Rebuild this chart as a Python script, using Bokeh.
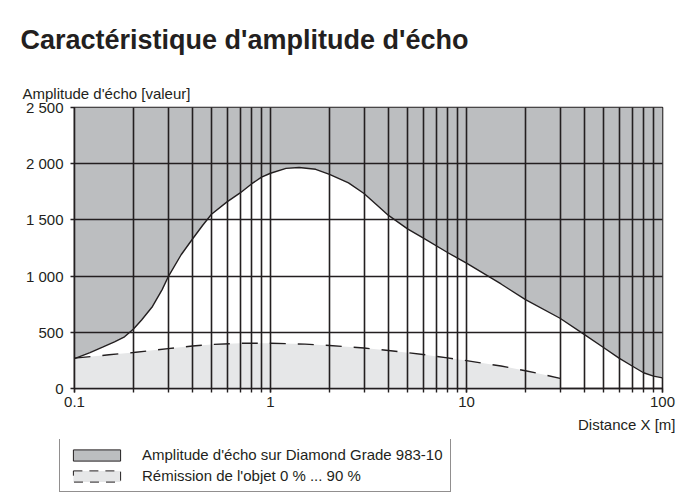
from bokeh.plotting import figure
from bokeh.layouts import column
from bokeh.models import Range1d, FixedTicker, Title, Legend, LegendItem
from bokeh.embed import file_html
from bokeh.resources import INLINE

# ---- data ----
title_text = "Caractéristique d'amplitude d'écho"
y_title = "Amplitude d'écho [valeur]"
x_title = "Distance X [m]"
legend_labels = ["Amplitude d'écho sur Diamond Grade 983-10",
                 "Rémission de l'objet 0 % ... 90 %"]

x_ticks = [0.1, 1, 10, 100]
x_tick_labels = ["0.1", "1", "10", "100"]
y_ticks = [0, 500, 1000, 1500, 2000, 2500]
y_tick_labels = ["0", "500", "1 000", "1 500", "2 000", "2 500"]
grid_x = [0.1, 0.2, 0.3, 0.4, 0.5, 0.6, 0.7, 0.8, 0.9,
          1, 2, 3, 4, 5, 6, 7, 8, 9,
          10, 20, 30, 40, 50, 60, 70, 80, 90, 100]

# Echo amplitude on Diamond Grade (upper boundary of grey zone)
solid_x = [0.1, 0.12, 0.14, 0.16, 0.18, 0.2, 0.22, 0.25, 0.28, 0.3, 0.35, 0.4,
           0.45, 0.5, 0.6, 0.7, 0.8, 0.9, 1.0, 1.2, 1.4, 1.7, 2.0, 2.5, 3.0,
           3.5, 4.0, 5.0, 6.0, 8.0, 10, 15, 20, 30, 40, 50, 60, 70, 80, 90, 100]
solid_y = [265, 320, 370, 415, 460, 530, 610, 730, 880, 990, 1190, 1330,
           1450, 1550, 1660, 1740, 1820, 1880, 1915, 1958, 1966, 1950, 1905, 1830, 1735,
           1630, 1540, 1420, 1340, 1210, 1115, 930, 790, 625, 480, 365, 270, 200, 140, 110, 95]

# Remission 0 % ... 90 % (upper boundary of light zone)
dash_x = [0.1, 0.15, 0.2, 0.3, 0.4, 0.5, 0.7, 1.0, 1.5, 2.0, 3.0, 4.0, 6.0,
          8.0, 10, 15, 20, 25, 30]
dash_y = [270, 300, 320, 355, 378, 392, 402, 402, 395, 383, 360, 338, 303,
          272, 248, 200, 158, 122, 90]

# ---- style ----
FONT = "Liberation Sans"
DARK = "#231f20"
GREY = "#bcbec0"
LIGHT = "#e6e7e8"
NAN = float("nan")

p = figure(frame_width=588, frame_height=281, x_axis_type="log", title=None,
           x_range=Range1d(0.1, 100), y_range=Range1d(0, 2500),
           output_backend="svg", toolbar_location=None,
           min_border_left=74, min_border_right=17,
           min_border_top=106, min_border_bottom=51)
p.background_fill_color = "white"
p.border_fill_color = "white"
p.outline_line_color = DARK
p.outline_line_width = 1.6

p.varea(x=solid_x, y1=solid_y, y2=2500, fill_color=GREY)
p.varea(x=dash_x, y1=0, y2=dash_y, fill_color=LIGHT)
p.line(solid_x, solid_y, line_color=DARK, line_width=1.4)
p.line(dash_x, dash_y, line_color=DARK, line_width=1.4, line_dash="16 12")

for g, t in ((p.xgrid[0], grid_x), (p.ygrid[0], y_ticks)):
    g.ticker = FixedTicker(ticks=t)
    g.grid_line_color = DARK
    g.grid_line_width = 1.6
    g.level = "overlay"

xa = p.xaxis[0]
xa.ticker = FixedTicker(ticks=x_ticks, minor_ticks=grid_x)
xa.major_label_overrides = dict(zip(x_ticks, x_tick_labels))
xa.minor_tick_in = 0
xa.minor_tick_out = 4
xa.minor_tick_line_color = DARK
xa.minor_tick_line_width = 1.4
xa.major_label_standoff = 4

ya = p.yaxis[0]
ya.ticker = FixedTicker(ticks=y_ticks)
ya.major_label_overrides = dict(zip(y_ticks, y_tick_labels))
ya.minor_tick_line_color = None
ya.major_label_standoff = 7

for a in (xa, ya):
    a.axis_line_color = DARK
    a.axis_line_width = 1.6
    a.major_tick_in = 0
    a.major_tick_out = 4
    a.major_tick_line_color = DARK
    a.major_tick_line_width = 1.4
    a.major_label_text_font = FONT
    a.major_label_text_font_size = "15px"
    a.major_label_text_color = DARK

# titles in the side panels (stacked outward from the frame)
p.add_layout(Title(text=y_title, align="left", offset=-52, standoff=11,
                   text_font=FONT, text_font_size="15px", text_font_style="normal",
                   text_color=DARK), "above")
p.add_layout(Title(text=title_text, align="left", offset=-54, standoff=45,
                   text_font=FONT, text_font_size="27px", text_font_style="bold",
                   text_color=DARK), "above")
p.add_layout(Title(text=x_title, align="right", offset=-13, standoff=9,
                   text_font=FONT, text_font_size="15px", text_font_style="normal",
                   text_color=DARK), "below")

# legend strip below the chart
q = figure(width=679, height=63, x_range=Range1d(0, 1), y_range=Range1d(0, 1),
           output_backend="svg", toolbar_location=None, title=None,
           x_axis_location=None, y_axis_location=None,
           min_border=0, min_border_left=0, min_border_right=0,
           min_border_top=0, min_border_bottom=0)
legend_x = 59
try:
    q.frame_align = False
    p.frame_align = False
except AttributeError:
    legend_x = 0  # frame of the strip is aligned with the chart frame (x=74)
q.outline_line_color = None
q.xgrid.visible = False
q.ygrid.visible = False
q.background_fill_color = "white"
q.border_fill_color = "white"
# legend proxies: no drawable data
sw1 = q.quad(left=[NAN], right=[NAN], top=[NAN], bottom=[NAN], fill_color=GREY,
             line_color=DARK, line_width=1.0)
sw2 = q.quad(left=[NAN], right=[NAN], top=[NAN], bottom=[NAN], fill_color=LIGHT,
             line_color=DARK, line_width=1.0, line_dash="9 7")
leg = Legend(items=[LegendItem(label=legend_labels[0], renderers=[sw1]),
                    LegendItem(label=legend_labels[1], renderers=[sw2])],
             location=(legend_x, 10), margin=0, padding=7, spacing=4,
             glyph_width=59, glyph_height=14, label_standoff=16,
             label_text_font=FONT, label_text_font_size="15px",
             label_text_color=DARK, border_line_color=DARK,
             border_line_width=1.3, background_fill_color="white",
             background_fill_alpha=1.0)
q.add_layout(leg)

layout = column(p, q, spacing=0)

open("out.html", "w").write(file_html(layout, INLINE))
